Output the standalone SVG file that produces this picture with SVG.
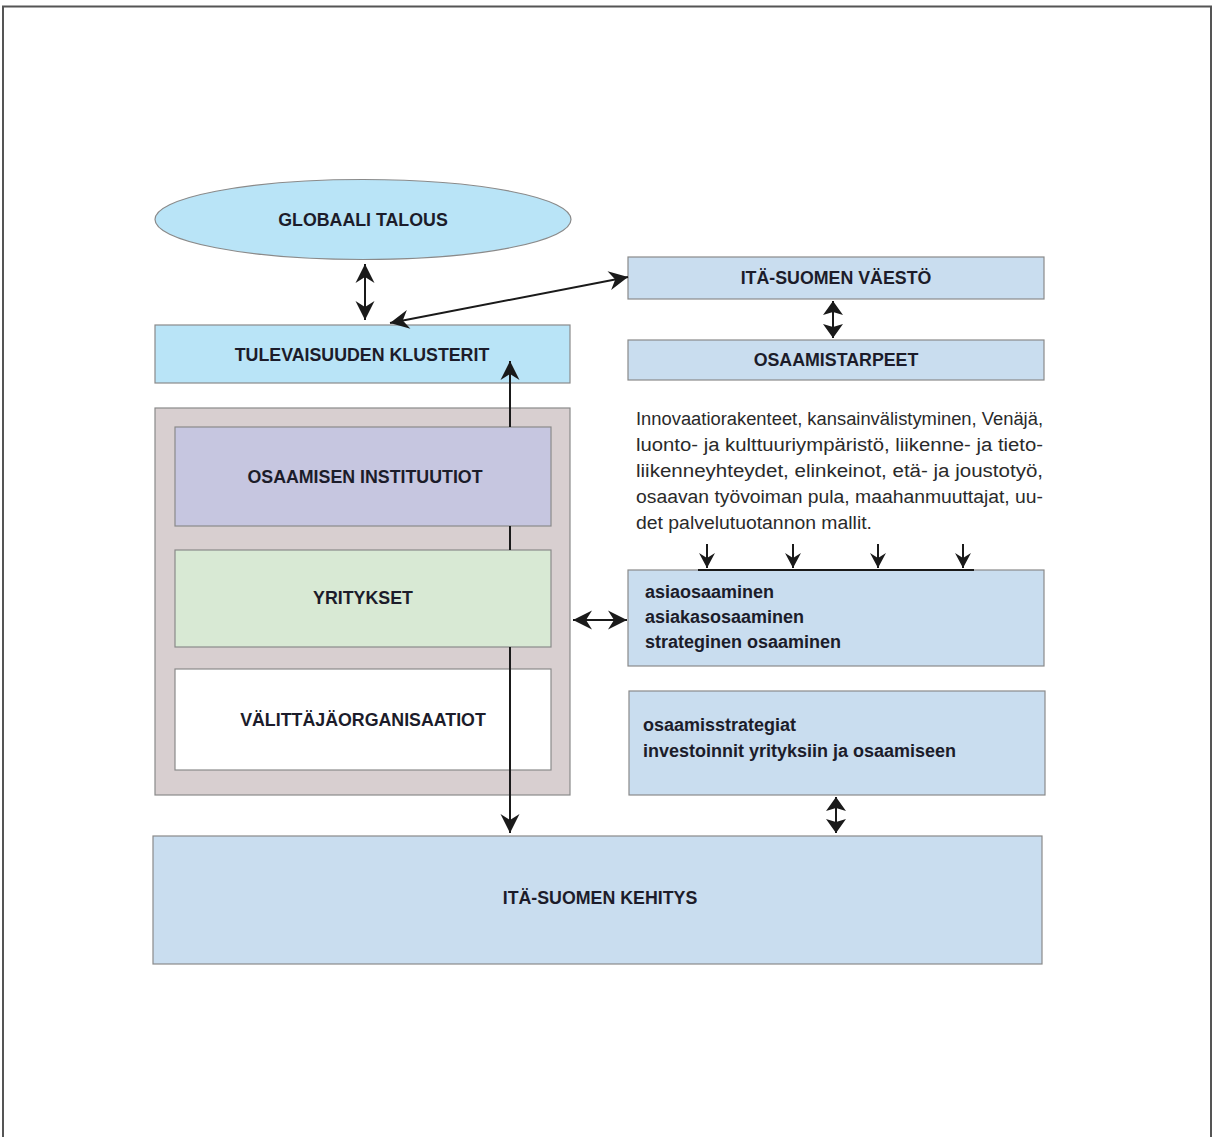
<svg xmlns="http://www.w3.org/2000/svg" width="1214" height="1137" viewBox="0 0 1214 1137">
<defs>
<style>
.box{stroke:#8a8a8a;stroke-width:1.2}
.t{font-family:"Liberation Sans",Arial,sans-serif;font-weight:bold;font-size:17.8px;fill:#1c1c2a;text-anchor:middle;dominant-baseline:central}
.tl{font-family:"Liberation Sans",Arial,sans-serif;font-weight:bold;font-size:18px;fill:#1c1c2a}
.p{font-family:"Liberation Sans",Arial,sans-serif;font-size:18px;fill:#2a2a2a}
.c{stroke:#1a1a1a;stroke-width:2;fill:none}
</style>
<marker id="ah" markerUnits="userSpaceOnUse" viewBox="-20 -10 22 20" refX="0" refY="0" markerWidth="22" markerHeight="20" orient="auto-start-reverse">
<path d="M0,0 L-19,-9.5 L-13,0 L-19,9.5 Z" fill="#1a1a1a"/>
</marker>
<marker id="am" markerUnits="userSpaceOnUse" viewBox="-16 -11 18 22" refX="0" refY="0" markerWidth="18" markerHeight="22" orient="auto-start-reverse">
<path d="M0,0 L-14,-10 L-11,0 L-14,10 Z" fill="#1a1a1a"/>
</marker>
<marker id="as" markerUnits="userSpaceOnUse" viewBox="-16 -9 18 18" refX="0" refY="0" markerWidth="18" markerHeight="18" orient="auto">
<path d="M0,0 L-15,-8 L-10,0 L-15,8 Z" fill="#1a1a1a"/>
</marker>
</defs>
<rect x="3" y="6.5" width="1208" height="1140" fill="#fff" stroke="#555" stroke-width="2"/>

<g id="globaali-talous">
<ellipse class="box" cx="363" cy="219.5" rx="208" ry="40" fill="#b9e4f7"/>
<text class="t" x="363" y="220">GLOBAALI TALOUS</text>
</g>
<g id="tulevaisuuden-klusterit">
<rect class="box" x="155" y="325" width="415" height="58" fill="#b9e4f7"/>
<text class="t" x="362" y="355">TULEVAISUUDEN KLUSTERIT</text>
</g>
<g id="ita-suomen-vaesto">
<rect class="box" x="628" y="257" width="416" height="42" fill="#c9ddef"/>
<text class="t" x="836" y="278">ITÄ-SUOMEN VÄESTÖ</text>
</g>
<g id="osaamistarpeet">
<rect class="box" x="628" y="340" width="416" height="40" fill="#c9ddef"/>
<text class="t" x="836" y="360">OSAAMISTARPEET</text>
</g>
<g id="osaaminen-ryhma">
<rect class="box" x="155" y="408" width="415" height="387" fill="#d8cfd0"/>
</g>
<g id="osaamisen-instituutiot">
<rect class="box" x="175" y="427" width="376" height="99" fill="#c6c6e0"/>
<text class="t" x="365" y="477">OSAAMISEN INSTITUUTIOT</text>
</g>
<g id="yritykset">
<rect class="box" x="175" y="550" width="376" height="97" fill="#d8e9d4"/>
<text class="t" x="363" y="598">YRITYKSET</text>
</g>
<g id="valittajaorganisaatiot">
<rect class="box" x="175" y="669" width="376" height="101" fill="#ffffff"/>
<text class="t" x="363" y="720">VÄLITTÄJÄORGANISAATIOT</text>
</g>
<g id="tekijat">
<text class="p" x="636" y="425" textLength="407" lengthAdjust="spacingAndGlyphs">Innovaatiorakenteet, kansainvälistyminen, Venäjä,</text>
<text class="p" x="636" y="451" textLength="407" lengthAdjust="spacingAndGlyphs">luonto- ja kulttuuriympäristö, liikenne- ja tieto-</text>
<text class="p" x="636" y="477" textLength="407" lengthAdjust="spacingAndGlyphs">liikenneyhteydet, elinkeinot, etä- ja joustotyö,</text>
<text class="p" x="636" y="503" textLength="407" lengthAdjust="spacingAndGlyphs">osaavan työvoiman pula, maahanmuuttajat, uu-</text>
<text class="p" x="636" y="529" textLength="236" lengthAdjust="spacingAndGlyphs">det palvelutuotannon mallit.</text>
</g>
<g id="osaamisalueet">
<rect class="box" x="628" y="570" width="416" height="96" fill="#c9ddef"/>
<text class="tl" x="645" y="598">asiaosaaminen</text>
<text class="tl" x="645" y="623">asiakasosaaminen</text>
<text class="tl" x="645" y="648">strateginen osaaminen</text>
</g>
<g id="osaamisstrategiat">
<rect class="box" x="629" y="691" width="416" height="104" fill="#c9ddef"/>
<text class="tl" x="643" y="731">osaamisstrategiat</text>
<text class="tl" x="643" y="757">investoinnit yrityksiin ja osaamiseen</text>
</g>
<g id="ita-suomen-kehitys">
<rect class="box" x="153" y="836" width="889" height="128" fill="#c9ddef"/>
<text class="t" x="600" y="898">ITÄ-SUOMEN KEHITYS</text>
</g>

<g id="connectors">
<path class="c" d="M365,264 L365,320" marker-start="url(#ah)" marker-end="url(#ah)"/>
<path class="c" d="M390,323 L628,277" marker-start="url(#ah)" marker-end="url(#ah)"/>
<path class="c" d="M833,301 L833,338" marker-start="url(#am)" marker-end="url(#am)"/>
<path class="c" d="M510,427 L510,361" marker-end="url(#ah)"/>
<path class="c" d="M510,526 L510,550"/>
<path class="c" d="M510,647 L510,833" marker-end="url(#ah)"/>
<path class="c" d="M573,620 L627,620" marker-start="url(#ah)" marker-end="url(#ah)"/>
<path class="c" d="M836,797 L836,833" marker-start="url(#am)" marker-end="url(#am)"/>
<path class="c" d="M698,570 L974,570"/>
<path class="c" d="M707,544 L707,568" marker-end="url(#as)"/>
<path class="c" d="M793,544 L793,568" marker-end="url(#as)"/>
<path class="c" d="M878,544 L878,568" marker-end="url(#as)"/>
<path class="c" d="M963,544 L963,568" marker-end="url(#as)"/>
</g>
</svg>
